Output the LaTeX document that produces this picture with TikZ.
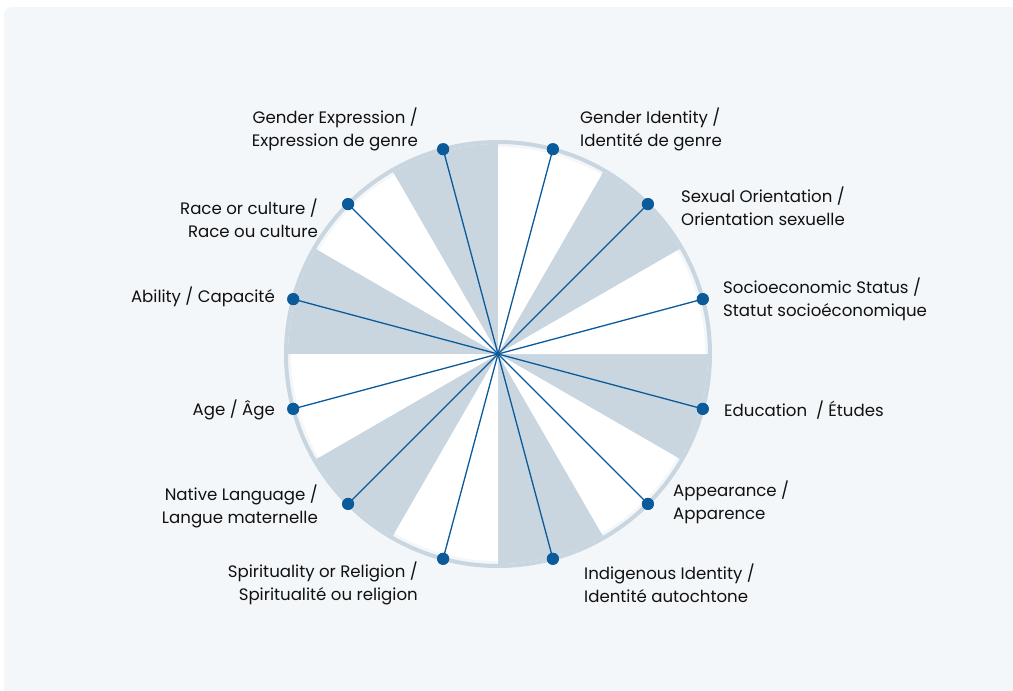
\documentclass[tikz,border=0pt]{standalone}
\usepackage{fontspec}
\setmainfont{Poppins}
\usetikzlibrary{calc}
\definecolor{panel}{HTML}{F4F7FA}
\definecolor{wedgecol}{HTML}{C9D6E0}
\definecolor{spoke}{HTML}{0B5A9A}
\definecolor{txt}{HTML}{111111}
\begin{document}
\begin{tikzpicture}[x=1pt,y=-1pt,
  lbl/.style={font=\fontsize{16.6}{23}\selectfont, text=txt, inner sep=0pt},
  lblL/.style={lbl, anchor=west, align=left},
  lblR/.style={lbl, anchor=east, align=right},
  dot/.style={circle, fill=spoke, inner sep=0pt, minimum size=12pt},
  spokeline/.style={draw=spoke, line width=1.3pt}]
\useasboundingbox (0,0) rectangle (1013,691);
\fill[white] (0,0) rectangle (1013,691);
\fill[panel, rounded corners=8pt] (4,7) rectangle (1030,700);
\coordinate (c) at (498,354);
% wedges (y axis points down, so angles are measured clockwise; use negative angles)
\foreach \a in {30,90,150,210,270,330}{
  \fill[wedgecol] (c) -- ++(-\a:210) arc[start angle=-\a, end angle=-\a-30, radius=210] -- cycle;
}
\foreach \a in {0,60,120,180,240,300}{
  \fill[white] (c) -- ++(-\a:207) arc[start angle=-\a, end angle=-\a-30, radius=207] -- cycle;
}
\draw[wedgecol, line width=4pt] (c) circle[radius=212];
% dots
\foreach \n/\a in {gi/75,so/45,ss/15,ed/-15,ap/-45,ii/-75,sr/-105,nl/-135,ag/-165,ab/165,rc/135,ge/105}{
  \node[dot] (\n) at ($(c)+(-\a:212)$) {};
}
\foreach \n in {gi,so,ss,ed,ap,ii,sr,nl,ag,ab,rc,ge}{
  \draw[spokeline] (c) -- (\n.center);
}
\foreach \n in {gi,so,ss,ed,ap,ii,sr,nl,ag,ab,rc,ge}{
  \node[dot] at (\n) {};
}
% labels
\node[lblR] (tge) at (418,129.5) {Gender Expression /\\Expression de genre};
\node[lblL] (tgi) at (580,129.5) {Gender Identity /\\Identité de genre};
\node[lblR] (trc) at (318,218.5) {Race or culture /\\Race ou culture};
\node[lblL] (tso) at (681,206.5) {Sexual Orientation /\\Orientation sexuelle};
\node[lblR] (tab) at (275,297) {Ability / Capacité};
\node[lblL] (tss) at (723,299.5) {Socioeconomic Status /\\Statut socioéconomique};
\node[lblR] (tag) at (275,410) {Age / Âge};
\node[lblL] (ted) at (724,410) {Education\ \ / Études};
\node[lblR] (tnl) at (318,506.5) {Native Language /\\Langue maternelle};
\node[lblL] (tap) at (673,502.5) {Appearance /\\Apparence};
\node[lblR] (tsr) at (418,583.5) {Spirituality or Religion /\\Spiritualité ou religion};
\node[lblL] (tii) at (584,583.5) {Indigenous Identity /\\Identité autochtone};
\end{tikzpicture}
\end{document}
